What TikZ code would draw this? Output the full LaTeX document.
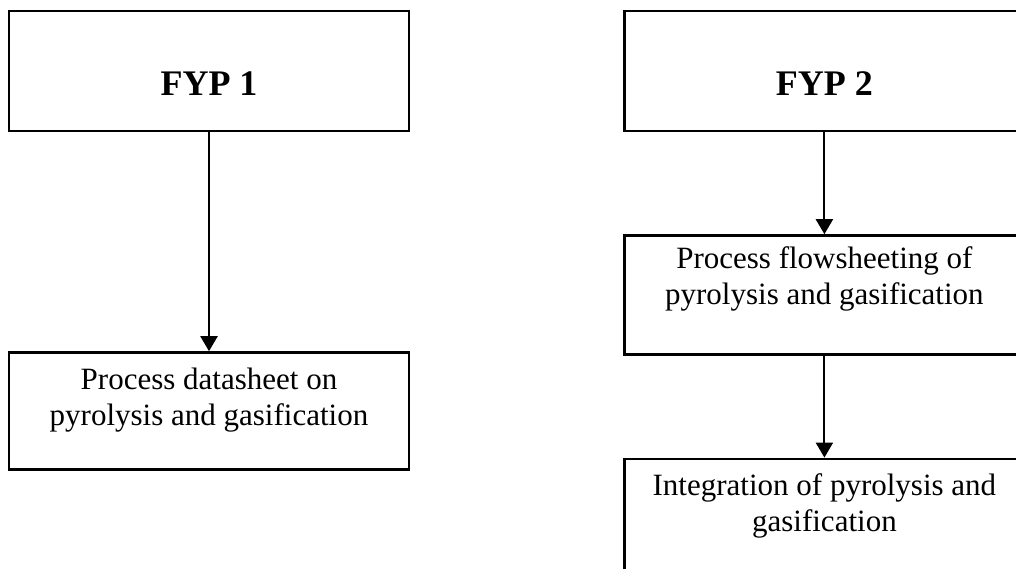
\documentclass[tikz,border=0pt]{standalone}
\usepackage{fontspec}
\setmainfont{Liberation Serif}
\usetikzlibrary{positioning,arrows.meta}

\begin{document}
\begin{tikzpicture}[
  x=1pt, y=-1pt,
  font=\fontsize{31}{36}\selectfont,
  frame/.style={draw, line width=2.4pt, minimum width=400pt, inner sep=0pt},
  txt/.style={align=center, inner sep=0pt},
  head/.style={font=\fontsize{36}{42}\selectfont\bfseries, inner sep=0pt},
  arr/.style={-{Triangle[width=17pt, length=15pt]}, line width=2.1pt},
  node distance=102pt and 213pt]
\useasboundingbox (0,0) rectangle (1016,568);
\clip (0,0) rectangle (1016,568);
% left column
\node[frame, minimum height=120pt] (fyp1) at (209,71) {};
\node[frame, minimum height=117pt, below=219pt of fyp1] (sheet) {};
% right column
\node[frame, minimum height=120pt, right=of fyp1] (fyp2) {};
\node[frame, minimum height=119pt, below=of fyp2] (flow) {};
\node[frame, minimum height=118pt, below=of flow] (integ) {};
% texts
\node[head, yshift=-12.5pt] (fyp1t) at (fyp1) {FYP 1};
\node[head, yshift=-12.5pt] (fyp2t) at (fyp2) {FYP 2};
\node[txt, below=17pt of sheet.north] (sheett) {Process datasheet on\\pyrolysis and gasification};
\node[txt, below=12pt of flow.north] (flowt) {Process flowsheeting of\\pyrolysis and gasification};
\node[txt, below=16pt of integ.north] (integt) {Integration of pyrolysis and\\gasification};
% arrows
\draw[arr] (fyp1) -- (sheet);
\draw[arr] (fyp2) -- (flow);
\draw[arr] (flow) -- (integ);
\end{tikzpicture}
\end{document}
